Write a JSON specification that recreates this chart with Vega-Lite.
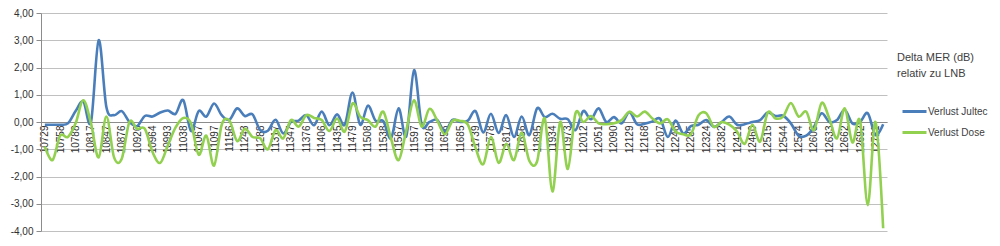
{
  "$schema": "https://vega.github.io/schema/vega-lite/v6.json",
  "width": 846,
  "height": 218,
  "autosize": {"type": "none"},
  "padding": {"left": 41, "top": 13, "right": 113, "bottom": 15},
  "background": "white",
  "config": {"view": {"stroke": null}, "font": "Liberation Sans"},
  "data": {"values": [
    {"f": 10729, "Verlust Jultec": -0.1, "Verlust Dose": -0.9},
    {"f": 10743, "Verlust Jultec": -0.1, "Verlust Dose": -1.4},
    {"f": 10758, "Verlust Jultec": -0.1, "Verlust Dose": -0.5},
    {"f": 10773, "Verlust Jultec": -0.05, "Verlust Dose": -0.55},
    {"f": 10788, "Verlust Jultec": 0.4, "Verlust Dose": -0.05},
    {"f": 10803, "Verlust Jultec": 0.75, "Verlust Dose": 0.8},
    {"f": 10817, "Verlust Jultec": 0.0, "Verlust Dose": -0.05},
    {"f": 10832, "Verlust Jultec": 3.0, "Verlust Dose": -1.3},
    {"f": 10847, "Verlust Jultec": 0.55, "Verlust Dose": 0.2},
    {"f": 10862, "Verlust Jultec": 0.25, "Verlust Dose": -1.3},
    {"f": 10876, "Verlust Jultec": 0.4, "Verlust Dose": -1.35},
    {"f": 10891, "Verlust Jultec": 0.0, "Verlust Dose": 0.0},
    {"f": 10920, "Verlust Jultec": -0.15, "Verlust Dose": -0.25},
    {"f": 10935, "Verlust Jultec": 0.22, "Verlust Dose": -0.25},
    {"f": 10964, "Verlust Jultec": 0.2, "Verlust Dose": -1.1},
    {"f": 10979, "Verlust Jultec": 0.35, "Verlust Dose": -1.5},
    {"f": 10993, "Verlust Jultec": 0.42, "Verlust Dose": -0.85},
    {"f": 11023, "Verlust Jultec": 0.3, "Verlust Dose": -0.2},
    {"f": 11038, "Verlust Jultec": 0.8, "Verlust Dose": 0.15},
    {"f": 11053, "Verlust Jultec": -0.33, "Verlust Dose": -0.05},
    {"f": 11067, "Verlust Jultec": 0.4, "Verlust Dose": -1.2},
    {"f": 11082, "Verlust Jultec": 0.2, "Verlust Dose": -0.5},
    {"f": 11097, "Verlust Jultec": 0.68, "Verlust Dose": -1.6},
    {"f": 11112, "Verlust Jultec": 0.25, "Verlust Dose": -0.1},
    {"f": 11156, "Verlust Jultec": 0.08, "Verlust Dose": 0.05},
    {"f": 11171, "Verlust Jultec": 0.5, "Verlust Dose": -0.7},
    {"f": 11243, "Verlust Jultec": 0.22, "Verlust Dose": -0.25},
    {"f": 11258, "Verlust Jultec": 0.28, "Verlust Dose": -0.55},
    {"f": 11288, "Verlust Jultec": -0.3, "Verlust Dose": -0.6},
    {"f": 11303, "Verlust Jultec": -0.32, "Verlust Dose": -1.0},
    {"f": 11317, "Verlust Jultec": 0.08, "Verlust Dose": -0.3},
    {"f": 11332, "Verlust Jultec": -0.42, "Verlust Dose": -0.6},
    {"f": 11347, "Verlust Jultec": 0.0, "Verlust Dose": 0.07},
    {"f": 11362, "Verlust Jultec": 0.05, "Verlust Dose": -0.17},
    {"f": 11376, "Verlust Jultec": 0.25, "Verlust Dose": 0.25},
    {"f": 11391, "Verlust Jultec": -0.12, "Verlust Dose": 0.15},
    {"f": 11406, "Verlust Jultec": 0.38, "Verlust Dose": 0.07},
    {"f": 11420, "Verlust Jultec": -0.12, "Verlust Dose": -0.33},
    {"f": 11435, "Verlust Jultec": 0.28, "Verlust Dose": 0.13},
    {"f": 11464, "Verlust Jultec": -0.1, "Verlust Dose": -0.35},
    {"f": 11479, "Verlust Jultec": 1.08, "Verlust Dose": 0.68},
    {"f": 11494, "Verlust Jultec": -0.1, "Verlust Dose": 0.2},
    {"f": 11508, "Verlust Jultec": 0.6, "Verlust Dose": 0.07},
    {"f": 11523, "Verlust Jultec": 0.05, "Verlust Dose": -0.17},
    {"f": 11538, "Verlust Jultec": 0.03, "Verlust Dose": 0.38},
    {"f": 11552, "Verlust Jultec": -0.6, "Verlust Dose": -0.6},
    {"f": 11567, "Verlust Jultec": 0.5, "Verlust Dose": -1.4},
    {"f": 11582, "Verlust Jultec": -0.52, "Verlust Dose": -0.3},
    {"f": 11597, "Verlust Jultec": 1.9, "Verlust Dose": 0.8},
    {"f": 11612, "Verlust Jultec": -0.1, "Verlust Dose": -0.17},
    {"f": 11626, "Verlust Jultec": 0.0, "Verlust Dose": 0.48},
    {"f": 11641, "Verlust Jultec": 0.08, "Verlust Dose": 0.07},
    {"f": 11656, "Verlust Jultec": -0.35, "Verlust Dose": -0.45},
    {"f": 11670, "Verlust Jultec": 0.08, "Verlust Dose": 0.04},
    {"f": 11685, "Verlust Jultec": 0.0, "Verlust Dose": 0.04},
    {"f": 11719, "Verlust Jultec": 0.05, "Verlust Dose": -0.1},
    {"f": 11739, "Verlust Jultec": 0.4, "Verlust Dose": -0.95},
    {"f": 11758, "Verlust Jultec": -0.38, "Verlust Dose": -1.55},
    {"f": 11778, "Verlust Jultec": 0.3, "Verlust Dose": -0.55},
    {"f": 11798, "Verlust Jultec": -0.4, "Verlust Dose": -1.5},
    {"f": 11817, "Verlust Jultec": 0.25, "Verlust Dose": -0.8},
    {"f": 11836, "Verlust Jultec": -0.55, "Verlust Dose": -1.4},
    {"f": 11856, "Verlust Jultec": 0.2, "Verlust Dose": -0.4},
    {"f": 11876, "Verlust Jultec": -0.48, "Verlust Dose": -1.43},
    {"f": 11895, "Verlust Jultec": 0.5, "Verlust Dose": -1.45},
    {"f": 11914, "Verlust Jultec": 0.18, "Verlust Dose": 0.13},
    {"f": 11934, "Verlust Jultec": 0.3, "Verlust Dose": -2.55},
    {"f": 11954, "Verlust Jultec": 0.12, "Verlust Dose": 0.0},
    {"f": 11973, "Verlust Jultec": 0.1, "Verlust Dose": -1.72},
    {"f": 11992, "Verlust Jultec": -0.3, "Verlust Dose": 0.32},
    {"f": 12012, "Verlust Jultec": 0.4, "Verlust Dose": 0.0},
    {"f": 12032, "Verlust Jultec": 0.1, "Verlust Dose": 0.22},
    {"f": 12051, "Verlust Jultec": 0.5, "Verlust Dose": -0.05},
    {"f": 12070, "Verlust Jultec": 0.0, "Verlust Dose": -0.08},
    {"f": 12090, "Verlust Jultec": 0.18, "Verlust Dose": -0.05},
    {"f": 12110, "Verlust Jultec": -0.05, "Verlust Dose": 0.07},
    {"f": 12129, "Verlust Jultec": 0.36, "Verlust Dose": 0.38},
    {"f": 12148, "Verlust Jultec": -0.08, "Verlust Dose": 0.2},
    {"f": 12168, "Verlust Jultec": -0.06, "Verlust Dose": 0.38},
    {"f": 12187, "Verlust Jultec": 0.02, "Verlust Dose": 0.13},
    {"f": 12207, "Verlust Jultec": 0.12, "Verlust Dose": -0.05},
    {"f": 12226, "Verlust Jultec": -0.55, "Verlust Dose": 0.1},
    {"f": 12246, "Verlust Jultec": 0.05, "Verlust Dose": -0.35},
    {"f": 12266, "Verlust Jultec": -0.42, "Verlust Dose": -0.45},
    {"f": 12285, "Verlust Jultec": -0.15, "Verlust Dose": -0.45},
    {"f": 12304, "Verlust Jultec": -0.1, "Verlust Dose": 0.25},
    {"f": 12324, "Verlust Jultec": 0.07, "Verlust Dose": 0.32},
    {"f": 12344, "Verlust Jultec": -0.18, "Verlust Dose": -0.18},
    {"f": 12382, "Verlust Jultec": 0.0, "Verlust Dose": 0.0},
    {"f": 12402, "Verlust Jultec": 0.2, "Verlust Dose": -0.1},
    {"f": 12421, "Verlust Jultec": -0.1, "Verlust Dose": -0.35},
    {"f": 12441, "Verlust Jultec": -0.08, "Verlust Dose": -0.8},
    {"f": 12460, "Verlust Jultec": 0.0, "Verlust Dose": -0.1},
    {"f": 12480, "Verlust Jultec": 0.07, "Verlust Dose": -0.72},
    {"f": 12515, "Verlust Jultec": 0.35, "Verlust Dose": 0.35},
    {"f": 12522, "Verlust Jultec": 0.22, "Verlust Dose": 0.13},
    {"f": 12544, "Verlust Jultec": 0.23, "Verlust Dose": 0.2},
    {"f": 12552, "Verlust Jultec": -0.05, "Verlust Dose": 0.7},
    {"f": 12574, "Verlust Jultec": -0.5, "Verlust Dose": 0.2},
    {"f": 12581, "Verlust Jultec": -0.5, "Verlust Dose": 0.38},
    {"f": 12603, "Verlust Jultec": -0.18, "Verlust Dose": -0.3},
    {"f": 12610, "Verlust Jultec": 0.32, "Verlust Dose": 0.7},
    {"f": 12633, "Verlust Jultec": 0.0, "Verlust Dose": 0.13},
    {"f": 12640, "Verlust Jultec": 0.07, "Verlust Dose": -0.6},
    {"f": 12662, "Verlust Jultec": 0.45, "Verlust Dose": 0.5},
    {"f": 12670, "Verlust Jultec": -0.05, "Verlust Dose": -0.75},
    {"f": 12692, "Verlust Jultec": 0.0, "Verlust Dose": 0.04},
    {"f": 12699, "Verlust Jultec": 0.32, "Verlust Dose": -3.05},
    {"f": 12721, "Verlust Jultec": -0.48, "Verlust Dose": 0.0},
    {"f": 12728, "Verlust Jultec": -0.08, "Verlust Dose": -3.9}
  ]},
  "transform": [{"fold": ["Verlust Jultec", "Verlust Dose"], "as": ["serie", "wert"]}],
  "mark": {"type": "line", "interpolate": "cardinal", "strokeWidth": 2.6},
  "encoding": {
    "x": {
      "field": "f", "type": "ordinal",
      "scale": {"type": "point", "padding": 0.5},
      "axis": {
        "title": null, "orient": "bottom", "offset": -109,
        "values": [10729, 10758, 10788, 10817, 10847, 10876, 10920, 10964, 10993, 11038, 11067, 11097, 11156, 11243, 11288, 11317, 11347, 11376, 11406, 11435, 11479, 11508, 11538, 11567, 11597, 11626, 11656, 11685, 11739, 11778, 11817, 11856, 11895, 11934, 11973, 12012, 12051, 12090, 12129, 12168, 12207, 12246, 12285, 12324, 12382, 12421, 12460, 12515, 12544, 12574, 12603, 12633, 12662, 12692, 12721],
        "labelAngle": -90, "labelFontSize": 10, "labelColor": "#303030", "labelPadding": 3,
        "labelOverlap": false, "labelBound": false,
        "domainColor": "#8c8c8c", "ticks": false, "grid": false
      }
    },
    "y": {
      "field": "wert", "type": "quantitative",
      "scale": {"domain": [-4, 4], "nice": false, "zero": false},
      "axis": {
        "title": null, "values": [-4, -3, -2, -1, 0, 1, 2, 3, 4],
        "grid": true, "gridColor": "#c0c0c0",
        "domainColor": "#8c8c8c", "tickColor": "#8c8c8c", "tickSize": 5,
        "labelFontSize": 10, "labelColor": "#303030", "labelPadding": 3,
        "labelExpr": "(datum.value < 0 ? '-' : '') + replace(format(abs(datum.value), '.2f'), '.', ',')"
      }
    },
    "color": {
      "field": "serie", "type": "nominal",
      "scale": {"domain": ["Verlust Jultec", "Verlust Dose"], "range": ["#4A7EBB", "#92D050"]},
      "legend": {
        "title": ["Delta MER (dB)", "relativ zu LNB"],
        "orient": "none", "legendX": 856, "legendY": 39,
        "titleFontSize": 11, "titleFontWeight": "normal", "titleColor": "#404040",
        "titleLineHeight": 16, "titlePadding": 19,
        "symbolType": "stroke", "symbolSize": 576, "symbolStrokeWidth": 3, "symbolOffset": 4,
        "labelFontSize": 10, "labelColor": "#404040", "labelOffset": 0,
        "rowPadding": 1, "padding": 0
      }
    }
  }
}
